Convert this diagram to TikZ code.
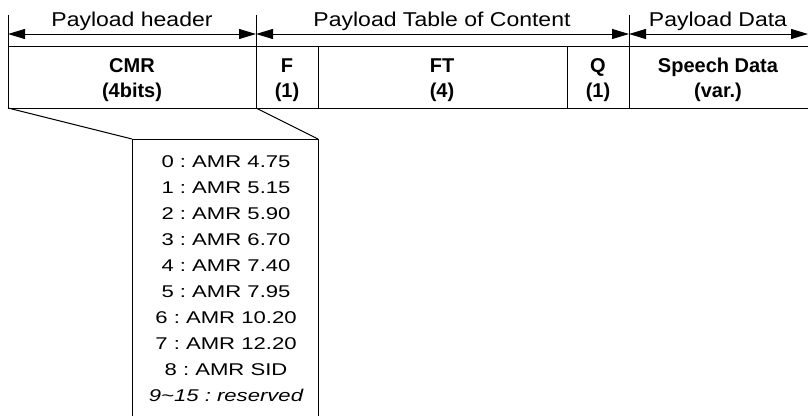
\documentclass[tikz,border=0pt]{standalone}
\usepackage{fontspec}
\setmainfont{Liberation Sans}
\newfontfamily\headfont[FakeStretch=1.15]{Liberation Sans}
\newfontfamily\widefont[FakeStretch=1.3]{Liberation Sans}
\usetikzlibrary{arrows.meta}
\usetikzlibrary{positioning}

\begin{document}
\begin{tikzpicture}
    [   x = 1pt, y = -1pt
    ,   line width = 1pt
    ,   > = {Triangle[length=17pt,width=10pt]}
    ,   field/.style = {align=center, inner sep=0pt, font=\fontsize{20}{25}\selectfont\bfseries}
    ,   span/.style = {anchor=base, inner sep=0pt, font=\fontsize{20}{24}\selectfont\headfont}
    ,   rate/.style = {anchor=base, inner sep=0pt, font=\fontsize{17}{20}\selectfont\widefont}
    ]
    \useasboundingbox (0,0) rectangle (808,416);

    % field borders
    \foreach \name/\x in {a/8, b/256, c/318, d/567, e/629, f/808}
    {
        \coordinate (tick-\name) at (\x,15);
        \coordinate (arr-\name) at (\x,34);
        \coordinate (top-\name) at (\x,46);
        \coordinate (bot-\name) at (\x,108);
    }
    \draw (top-a) -- (top-f);
    \draw (bot-a) -- (bot-f);
    \draw (tick-a) -- (bot-a);
    \draw (tick-b) -- (bot-b);
    \draw (tick-e) -- (bot-e);
    \draw (top-c) -- (bot-c);
    \draw (top-d) -- (bot-d);

    % spans
    \draw[<->] (arr-a) -- (arr-b);
    \draw[<->] (arr-b) -- (arr-e);
    \draw[<->] (arr-e) -- (arr-f);
    \node[span] (hdr) at (132,26) {Payload header};
    \node[span] (toc) at (442,26) {Payload Table of Content};
    \node[span] (dat) at (718,26) {Payload Data};

    % fields
    \node[field] (cmr) at (132,80) {CMR\\(4bits)};
    \node[field] (f) at (287,80) {F\\(1)};
    \node[field] (ft) at (442,80) {FT\\(4)};
    \node[field] (q) at (598,80) {Q\\(1)};
    \node[field] (sd) at (718,80) {Speech Data\\(var.)};

    % CMR values
    \coordinate (zl) at (132,139);
    \coordinate (zr) at (318,139);
    \coordinate (zlb) at (132,416);
    \coordinate (zrb) at (318,416);
    \draw (bot-a) -- (zl);
    \draw (bot-b) -- (zr);
    \draw (zlb) -- (zl) -- (zr) -- (zrb);

    \foreach \rate [count=\i from 0] in {4.75, 5.15, 5.90, 6.70, 7.40, 7.95, 10.20, 12.20, SID}
        \node[rate] (r\i) at (226,{167+26*\i}) {\i\ :\ AMR \rate};
    \node[rate] (r9) at (226,401) {\itshape 9\textasciitilde15\ :\ reserved};
\end{tikzpicture}
\end{document}
